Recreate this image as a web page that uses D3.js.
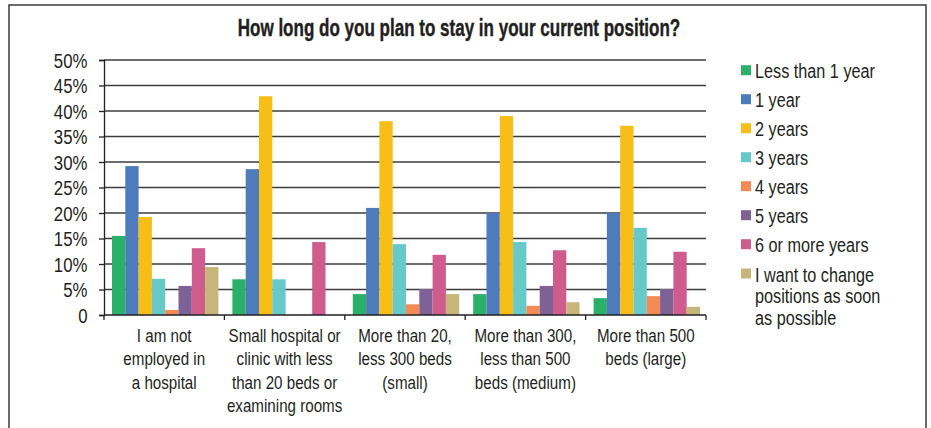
<!DOCTYPE html>
<html>
<head>
<meta charset="utf-8">
<script src="https://cdn.jsdelivr.net/npm/d3@7"></script>
<style>
  html, body { margin: 0; padding: 0; background: #fff; }
  svg { display: block; }
  text { font-family: "Liberation Sans", Arial, Helvetica, sans-serif; fill: #231f20; }
</style>
</head>
<body>
<svg id="chart" width="931" height="428"></svg>
<script>
const title = "How long do you plan to stay in your current position?";
const categories = ["not", "small", "20-300", "300-500", "500+"];
const categoryLines = [
  ["I am not", "employed in", "a hospital"],
  ["Small hospital or", "clinic with less", "than 20 beds or", "examining rooms"],
  ["More than 20,", "less 300 beds", "(small)"],
  ["More than 300,", "less than 500", "beds (medium)"],
  ["More than 500", "beds (large)"]
];
const seriesNames = ["Less than 1 year", "1 year", "2 years", "3 years", "4 years", "5 years", "6 or more years", "I want to change positions as soon as possible"];
const legendLines = [["Less than 1 year"], ["1 year"], ["2 years"], ["3 years"], ["4 years"], ["5 years"], ["6 or more years"], ["I want to change", "positions as soon", "as possible"]];
const colors = ["#2bb06a", "#4e7bbb", "#f6be17", "#67c9ca", "#f58b54", "#7e6296", "#d05c8e", "#c6b67a"];
// values per series (percent), one per category
const lessThan1 = [15.5, 7.0, 4.1, 4.1, 3.3];
const oneYear   = [29.2, 28.6, 21.0, 20.0, 20.0];
const twoYears  = [19.2, 42.9, 38.0, 39.0, 37.1];
const threeYears= [7.1, 7.0, 13.9, 14.3, 17.1];
const fourYears = [1.0, 0, 2.1, 1.8, 3.7];
const fiveYears = [5.7, 0, 5.1, 5.7, 5.1];
const sixPlus   = [13.1, 14.3, 11.8, 12.7, 12.4];
const wantChange= [9.4, 0, 4.1, 2.5, 1.6];
const yTicks = [0, 5, 10, 15, 20, 25, 30, 35, 40, 45, 50];

const seriesValues = [lessThan1, oneYear, twoYears, threeYears, fourYears, fiveYears, sixPlus, wantChange];
const SX = 0.82; // condensed look

const svg = d3.select("#chart");

// frame
svg.append("path")
  .attr("d", "M9,430 V5 H926 V430")
  .attr("fill", "none").attr("stroke", "#3a3a3a").attr("stroke-width", 1.5);

const tt = svg.append("text").attr("text-anchor", "middle")
  .style("font-size", "23px").style("font-weight", "bold")
  .style("stroke", "#231f20").style("stroke-width", "0.4px").text(title);
{
  const w = tt.node().getComputedTextLength();
  tt.attr("transform", `translate(459,36) scale(${443 / w},1)`);
}

const x0 = d3.scaleBand().domain(categories).range([104, 706]).padding(0);
const x1 = d3.scaleBand().domain(d3.range(seriesNames.length)).range([8, x0.bandwidth() - 6]).padding(0);
const y = d3.scaleLinear().domain([0, 50]).range([315, 60]);

// gridlines
svg.append("g").selectAll("line").data(yTicks.filter(d => d > 0)).join("line")
  .attr("x1", 104).attr("x2", 706)
  .attr("y1", d => y(d)).attr("y2", d => y(d))
  .attr("stroke", "#3c3c3c").attr("stroke-width", 1.4);

// bars
const g = svg.append("g");
categories.forEach((c, ci) => {
  seriesValues.forEach((vals, si) => {
    if (vals[ci] <= 0) return;
    g.append("rect")
      .attr("x", x0(c) + x1(si))
      .attr("width", x1.bandwidth())
      .attr("y", y(vals[ci]))
      .attr("height", y(0) - y(vals[ci]))
      .attr("fill", colors[si]);
  });
});

// y axis
const yAxis = d3.axisLeft(y).tickValues(yTicks).tickSize(5).tickPadding(10)
  .tickFormat(d => d === 0 ? "0" : d + "%");
const ya = svg.append("g").attr("transform", "translate(104,0)").call(yAxis);
ya.select(".domain").attr("stroke", "#231f20").attr("stroke-width", 1.3);
ya.selectAll(".tick line").attr("stroke", "#231f20").attr("stroke-width", 1.3);
ya.selectAll(".tick text").style("font-size", "20.5px").style("font-family", null)
  .attr("x", 0).attr("dy", "0.36em").attr("fill", "#231f20")
  .attr("transform", `translate(-16.5,0) scale(${SX},1)`);

// x axis
const xa = svg.append("g").attr("transform", "translate(0,315)");
xa.append("line").attr("x1", 104).attr("x2", 706).attr("stroke", "#231f20").attr("stroke-width", 1.3);
xa.selectAll(".xt").data(categories.concat(["end"])).join("line")
  .attr("x1", (d, i) => i < categories.length ? x0(d) : x0.range()[1])
  .attr("x2", (d, i) => i < categories.length ? x0(d) : x0.range()[1])
  .attr("y1", 0).attr("y2", 5).attr("stroke", "#231f20").attr("stroke-width", 1.3);
categories.forEach((c, ci) => {
  const t = xa.append("text").attr("text-anchor", "middle").style("font-size", "18.5px")
    .attr("transform", `translate(${x0(c) + x0.bandwidth() / 2},27) scale(${SX},1)`);
  categoryLines[ci].forEach((ln, li) => {
    t.append("tspan").attr("x", 0).attr("y", li * 23.3).text(ln);
  });
});

// legend
const lg = svg.append("g");
const legendY = [71.2, 100.2, 129.2, 158.2, 187.2, 216.2, 245.2, 274.5];
legendLines.forEach((lines, i) => {
  const cy = legendY[i];
  lg.append("rect").attr("x", 741).attr("y", cy - 6).attr("width", 10).attr("height", 10).attr("fill", colors[i]);
  const t = lg.append("text").style("font-size", "19.8px")
    .attr("transform", `translate(755,${cy + 7}) scale(${SX},1)`);
  lines.forEach((ln, li) => t.append("tspan").attr("x", 0).attr("dy", li === 0 ? 0 : 21.7).text(ln));
});
</script>
</body>
</html>
